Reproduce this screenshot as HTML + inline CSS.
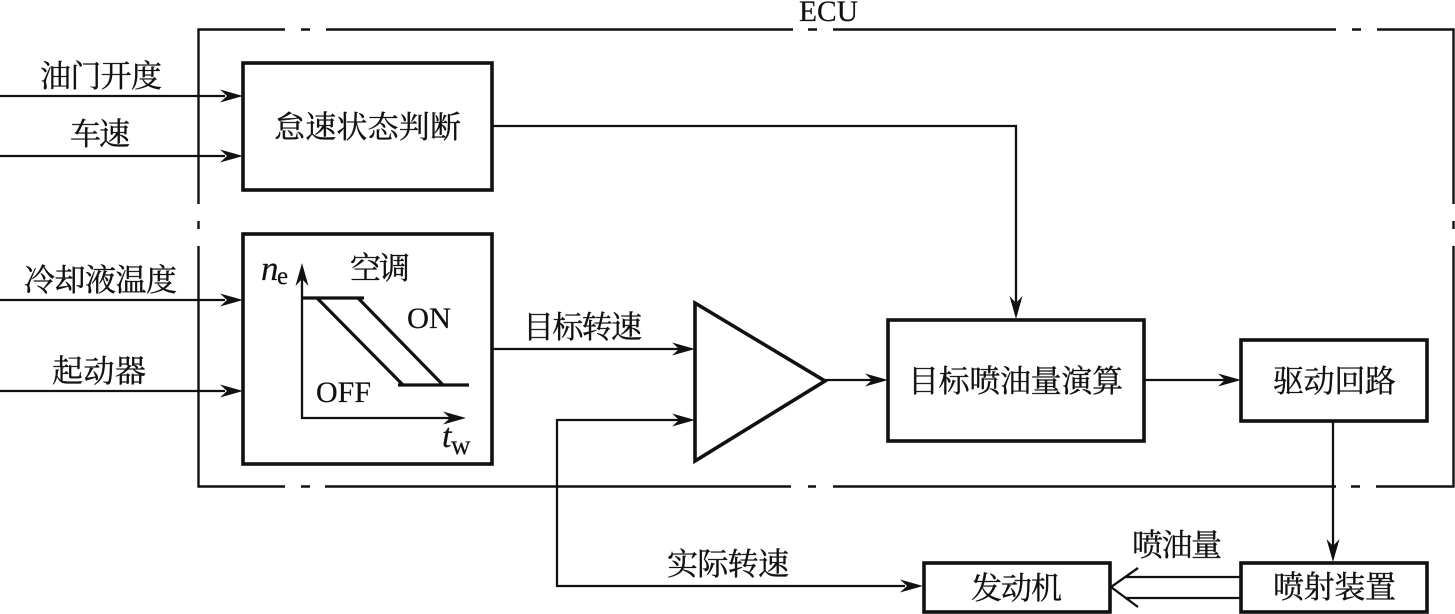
<!DOCTYPE html>
<html>
<head>
<meta charset="utf-8">
<style>
html,body{margin:0;padding:0;background:#fff;width:1455px;height:614px;overflow:hidden}
svg{display:block}
.c{font-family:"Liberation Serif","Noto Serif CJK SC",serif;font-size:31px;fill:#111;stroke:#111;stroke-width:.35px}
.l{font-family:"Liberation Serif",serif;font-size:30px;fill:#111;stroke:#111;stroke-width:.2px}
.i{font-style:italic}
</style>
</head>
<body>
<svg width="1455" height="614" viewBox="0 0 1455 614" xmlns="http://www.w3.org/2000/svg">
<defs>
<path id="ar" d="M0 0L-23 -6.5L-16 0L-23 6.5Z" fill="#111"/>
</defs>
<g fill="none" stroke="#111">
<!-- ECU dash-dot frame -->
<g stroke-width="2.4">
<path d="M285 29.5H198.5V204M198.5 221V229M198.5 246V486.5H285"/>
<path d="M301 29.5H310M326 29.5H793M808 29.5H817M833 29.5H1336M1352 29.5H1361M1377 29.5H1453.5V204M1453.5 221V229M1453.5 246V486.5H1376M1360 486.5H1351M1336 486.5H833M816 486.5H808M791 486.5H325M310 486.5H301"/>
</g>
<!-- Boxes -->
<g stroke-width="3.6">
<rect x="243" y="63" width="249" height="127"/>
<rect x="243" y="234" width="249" height="230"/>
<rect x="888" y="320" width="256" height="121"/>
<rect x="1241" y="340" width="186" height="81"/>
<rect x="1241" y="563" width="186" height="49"/>
<rect x="924" y="563" width="186" height="49"/>
<path d="M695 303L825 381L695 461Z"/>
</g>
<!-- Connectors -->
<g stroke-width="2.3">
<path d="M0 96H225M0 156H225M0 300H225M0 391H225"/>
<path d="M493 126H1016V305"/>
<path d="M493 349H680"/>
<path d="M825 380H872"/>
<path d="M1144 380H1225"/>
<path d="M1333 421V548"/>
<path d="M680 420H557V586H905"/>
<path d="M1125 577H1241M1125 598H1241"/>
<path d="M1138 568L1111 587L1138 607"/>
</g>
<!-- Chart -->
<path d="M302 275V418H450" stroke-width="2.3"/>
<g stroke-width="3.2">
<path d="M302 298H364M398 385H469M317 298L403 385M358 298L443 385"/>
</g>
</g>
<!-- Arrowheads -->
<use href="#ar" x="243" y="96"/>
<use href="#ar" x="243" y="156"/>
<use href="#ar" x="243" y="300"/>
<use href="#ar" x="243" y="391"/>
<use href="#ar" x="695" y="349"/>
<use href="#ar" x="695" y="420"/>
<use href="#ar" x="888" y="380"/>
<use href="#ar" x="1241" y="380"/>
<use href="#ar" x="923" y="586"/>
<use href="#ar" transform="translate(1016 319) rotate(90)"/>
<use href="#ar" transform="translate(1333 562) rotate(90)"/>
<use href="#ar" transform="translate(302 263) rotate(-90)"/>
<use href="#ar" x="466" y="418"/>
<!-- Labels -->
<text class="l" x="799" y="21" textLength="59" lengthAdjust="spacingAndGlyphs">ECU</text>
<text class="c" x="40" y="87" textLength="122">油门开度</text>
<text class="c" x="70" y="145" textLength="60">车速</text>
<text class="c" x="274" y="138" textLength="187">怠速状态判断</text>
<text class="c" x="24" y="291" textLength="153">冷却液温度</text>
<text class="c" x="52" y="382" textLength="94">起动器</text>
<text class="c" x="350" y="279" textLength="60">空调</text>
<text class="l" x="407" y="328" textLength="44" lengthAdjust="spacingAndGlyphs">ON</text>
<text class="l" x="316" y="402" textLength="55" lengthAdjust="spacingAndGlyphs">OFF</text>
<text class="l i" x="261" y="280" style="font-size:35px">n</text>
<text class="l" x="277" y="284" style="font-size:25px">e</text>
<text class="l i" x="442" y="447" style="font-size:34px">t</text>
<text class="l" x="451" y="454" style="font-size:27px">w</text>
<text class="c" x="523" y="338" textLength="119">目标转速</text>
<text class="c" x="908" y="392" textLength="215">目标喷油量演算</text>
<text class="c" x="1273" y="392" textLength="123">驱动回路</text>
<text class="c" x="1132" y="556" textLength="90">喷油量</text>
<text class="c" x="1273" y="598" textLength="123">喷射装置</text>
<text class="c" x="971" y="599" textLength="91">发动机</text>
<text class="c" x="667" y="575" textLength="122">实际转速</text>
</svg>
</body>
</html>
